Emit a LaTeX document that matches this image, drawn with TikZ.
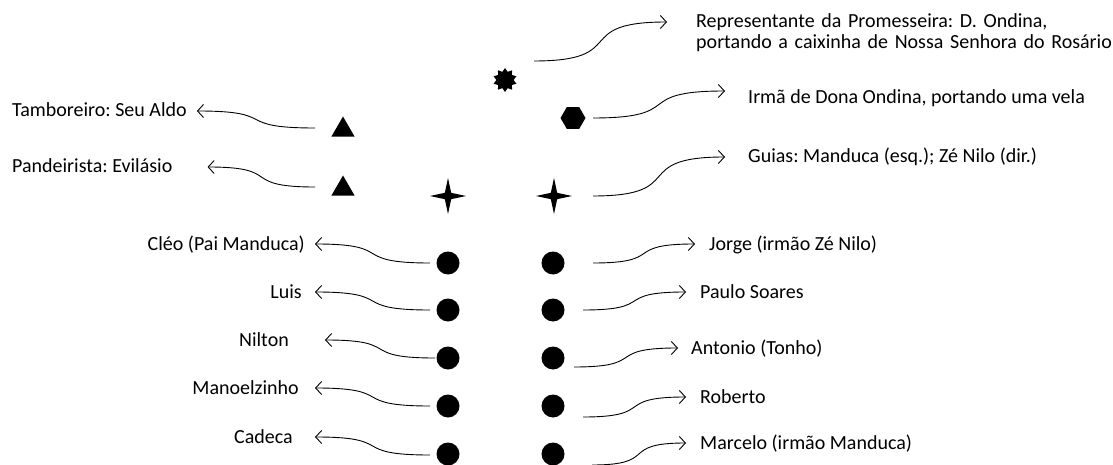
\documentclass[tikz,border=0pt]{standalone}
\usepackage{fontspec}
\setmainfont{Carlito}
\usepackage{tikz}
\usetikzlibrary{shapes.geometric, arrows.meta}
\frenchspacing

\begin{document}
\begin{tikzpicture}[
        x=1pt, y=-1pt,
        every node/.style={inner sep=0pt},
        dot/.style={circle, fill, minimum size=23pt},
        tri/.style={regular polygon, regular polygon sides=3, fill, minimum size=27pt},
        spark/.style={star, star points=4, star point ratio=4, fill, minimum size=36pt},
        burst/.style={star, star points=10, star point ratio=1.4, fill, minimum size=24pt},
        hexa/.style={regular polygon, regular polygon sides=6, fill, minimum size=25pt},
        lbl/.style={font=\fontsize{20}{21}\selectfont},
        pessoa/.style={lbl, text height=13pt, text depth=1pt},
        arr/.style={-{Straight Barb[length=6pt, width=13pt]}, line width=0.9pt},
        curl/.style={out=#1, in=180+#1, looseness=1.8}
    ]
    \useasboundingbox (0,0) rectangle (1113,465);

    \node[burst] (caixa) at (505,80) {};
    \node[hexa] (vela) at (573,118) {};
    \node[tri] (tamb) at (343,130) {};
    \node[tri] (pand) at (343,189) {};
    \node[spark] (guiaL) at (448,196) {};
    \node[spark] (guiaR) at (554,196) {};
    \foreach \y [count=\i] in {263,310,358,406,454} {
        \node[dot] (esq\i) at (448,\y) {};
        \node[dot] (dir\i) at (553,\y) {};
    }

    \node[pessoa, anchor=west] (tambT) at (12,111) {Tamboreiro: Seu Aldo};
    \node[pessoa, anchor=west] (pandT) at (12,167) {Pandeirista: Evilásio};
    \node[lbl, anchor=base west, text width=430pt, align=left] (repT) at (696,28)
        {Representante da Promesseira: D. Ondina,\\ portando a caixinha de Nossa Senhora do Rosário};
    \node[pessoa, anchor=west] (velaT) at (748,98) {Irmã de Dona Ondina, portando uma vela};
    \node[pessoa, anchor=west] (guiaT) at (748,157) {Guias: Manduca (esq.); Zé Nilo (dir.)};

    \node[pessoa, anchor=east] (cleo) at (305,244) {Cléo (Pai Manduca)};
    \node[pessoa, anchor=east] (luis) at (302,292) {Luis};
    \node[pessoa, anchor=east] (nilton) at (289,340) {Nilton};
    \node[pessoa, anchor=east] (manoel) at (299,388) {Manoelzinho};
    \node[pessoa, anchor=east] (cadeca) at (293,437) {Cadeca};

    \node[pessoa, anchor=west] (jorge) at (709,244) {Jorge (irmão Zé Nilo)};
    \node[pessoa, anchor=west] (paulo) at (700,292) {Paulo Soares};
    \node[pessoa, anchor=west] (tonho) at (691,348) {Antonio (Tonho)};
    \node[pessoa, anchor=west] (roberto) at (700,397) {Roberto};
    \node[pessoa, anchor=west] (marcelo) at (700,443) {Marcelo (irmão Manduca)};

    \draw[arr] ([xshift=-28pt, yshift=2pt]tamb.center) to[curl=180] ([xshift=10pt]tambT.east);
    \draw[arr] ([xshift=-28pt, yshift=2pt]pand.center) to[curl=180] ([xshift=35pt]pandT.east);
    \draw[arr] ([xshift=29pt, yshift=19pt]caixa.center) to[curl=0] ([xshift=-29pt, yshift=6pt]repT.base west);
    \draw[arr] ([xshift=20pt]vela.center) to[curl=0] ([xshift=-23pt, yshift=7pt]velaT.west);
    \draw[arr] ([xshift=39pt]guiaR.center) to[curl=0] ([xshift=-23pt]guiaT.west);

    \draw[arr] ([xshift=-18pt]esq1.center) to[curl=180] ([xshift=10pt]cleo.east);
    \draw[arr] ([xshift=-18pt]esq2.center) to[curl=180] ([xshift=13pt]luis.east);
    \draw[arr] ([xshift=-13pt]esq3.center) to[curl=180] ([xshift=36pt]nilton.east);
    \draw[arr] ([xshift=-18pt]esq4.center) to[curl=180] ([xshift=16pt]manoel.east);
    \draw[arr] ([xshift=-18pt, yshift=-1pt]esq5.center) to[curl=180] ([xshift=22pt]cadeca.east);

    \draw[arr] ([xshift=40pt]dir1.center) to[curl=0] ([xshift=-14pt]jorge.west);
    \draw[arr] ([xshift=30pt]dir2.center) to[curl=0] ([xshift=-14pt]paulo.west);
    \draw[arr] ([xshift=21pt, yshift=-9pt]dir3.center) to[curl=0] ([xshift=-13pt]tonho.west);
    \draw[arr] ([xshift=30pt, yshift=-11pt]dir4.center) to[curl=0] ([xshift=-14pt]roberto.west);
    \draw[arr] ([xshift=39pt, yshift=-11pt]dir5.center) to[curl=0] ([xshift=-14pt]marcelo.west);
\end{tikzpicture}
\end{document}
